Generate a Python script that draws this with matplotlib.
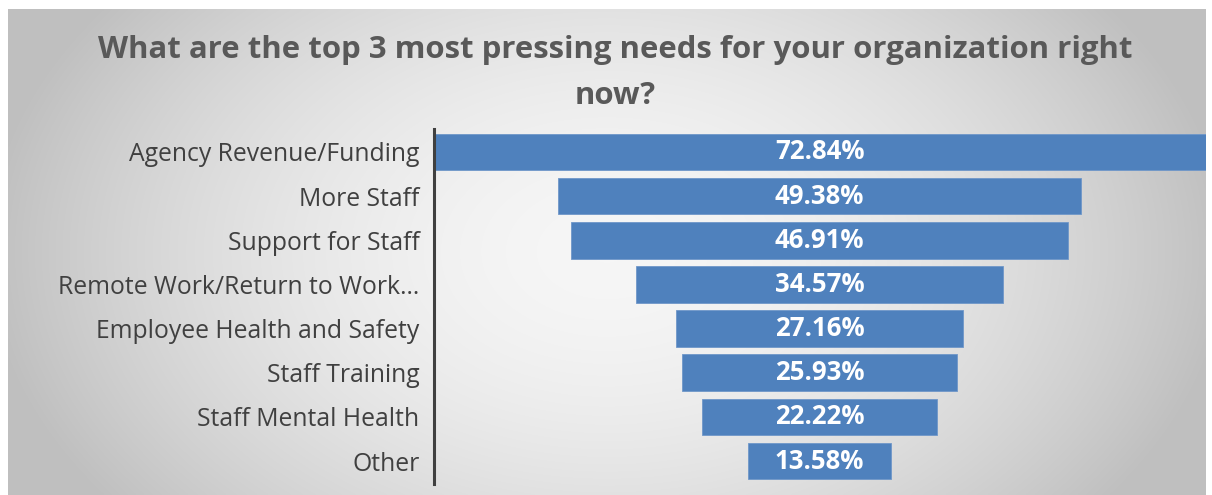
import numpy as np
import matplotlib
matplotlib.use("Agg")
import matplotlib.pyplot as plt

categories = ["Agency Revenue/Funding", "More Staff", "Support for Staff",
              "Remote Work/Return to Work…", "Employee Health and Safety",
              "Staff Training", "Staff Mental Health", "Other"]
values = [72.84, 49.38, 46.91, 34.57, 27.16, 25.93, 22.22, 13.58]
title = "What are the top 3 most pressing needs for your organization right\nnow?"

W, H = 1212, 495
fig = plt.figure(figsize=(W / 100, H / 100), dpi=100)
fig.patch.set_facecolor("white")

# background radial gradient panel
bg = fig.add_axes([8 / W, 0, 1198 / W, 486 / H])
bg.set_axis_off()
nx, ny = 600, 250
xx, yy = np.meshgrid(np.linspace(-1, 1, nx), np.linspace(-1, 1, ny))
r = np.sqrt(xx ** 2 + (yy * 0.6) ** 2)
g = 0.965 - 0.20 * np.clip(r, 0, 1.4) ** 1.8
g = np.clip(g, 0.75, 1)
img = np.dstack([g, g, g])
bg.imshow(img, aspect="auto", extent=[0, 1, 0, 1], interpolation="bilinear")
bg.set_xlim(0, 1)
bg.set_ylim(0, 1)

# main axes
left_px, right_px = 433.5, 1205.5
top_px, bot_px = 129, 484
ax = fig.add_axes([left_px / W, (H - bot_px) / H, (right_px - left_px) / W, (bot_px - top_px) / H])
ax.patch.set_alpha(0)
vmax = max(values)
ax.set_xlim(-vmax / 2, vmax / 2)
y = np.arange(len(categories))
ax.set_ylim(len(categories) - 0.48, -0.52)
ax.barh(y, values, left=[-v / 2 for v in values], height=0.83, color="#4f81bd",
        edgecolor="#6f97c9", linewidth=0.6)
for yi, v in zip(y, values):
    ax.text(0, yi, f"{v:.2f}%", ha="center", va="center", color="white",
            fontsize=18.5, fontweight="bold", family="Open Sans")
ax.set_yticks(y)
ax.set_yticklabels(categories, fontsize=17.8, color="#404040", family="Open Sans")
ax.tick_params(axis="y", length=0, pad=10)
ax.set_xticks([])
for s in ["top", "right", "bottom"]:
    ax.spines[s].set_visible(False)
ax.spines["left"].set_color("#404040")
ax.spines["left"].set_linewidth(2.2)

fig.text(615 / W, 1 - 73 / H, title, ha="center", va="center", fontsize=22.4,
         fontweight="bold", color="#595959", family="Open Sans", linespacing=1.7)

fig.savefig("out.png", dpi=100, facecolor=fig.get_facecolor())
